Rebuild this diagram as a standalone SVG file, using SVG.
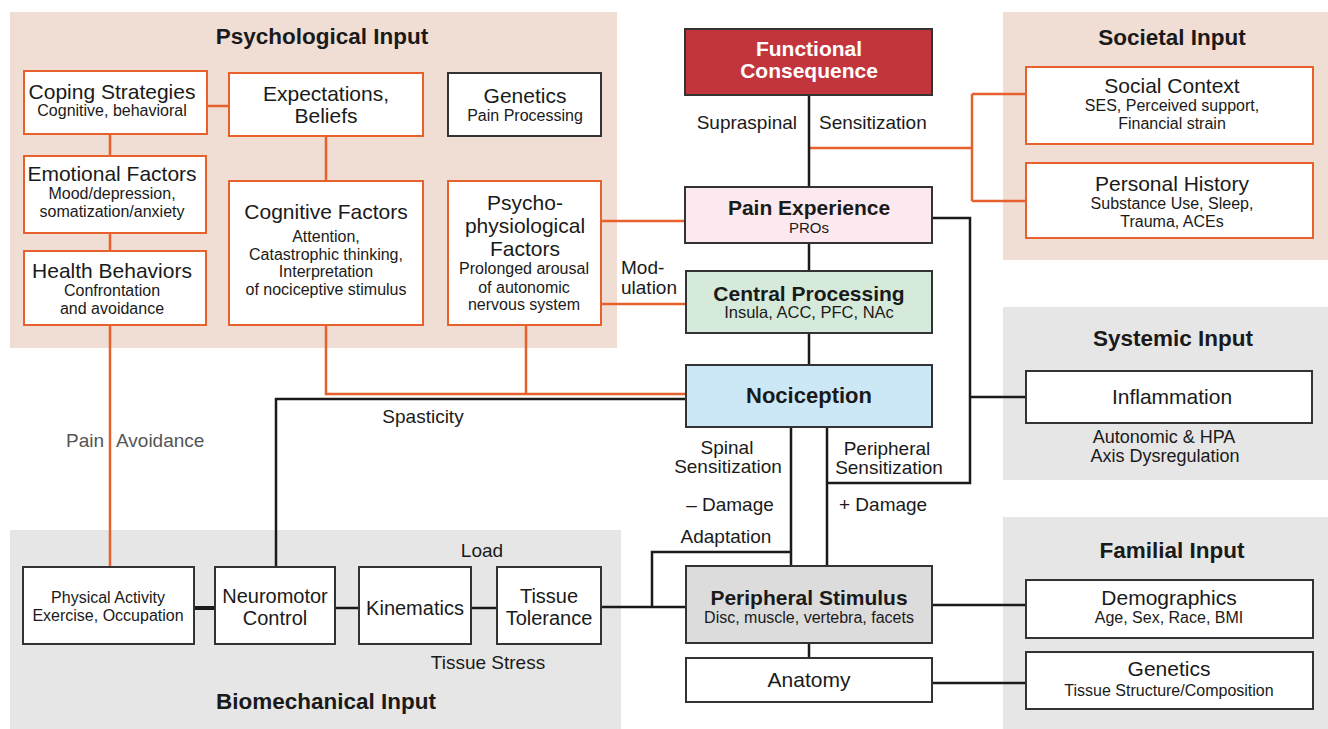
<svg xmlns="http://www.w3.org/2000/svg" width="1328" height="729" viewBox="0 0 1328 729">
<style>
text{font-family:"Liberation Sans",Arial,sans-serif;fill:#1a1a1a;text-anchor:middle}
.pt{font-size:22.5px;font-weight:bold}
.h{font-size:21px}
.hb{font-size:21px;font-weight:bold}
.s{font-size:16px}
.l{font-size:19px}
.lg{font-size:19px;fill:#555}
.ob{fill:#fff;stroke:#e8612c;stroke-width:2}
.kb{fill:#fff;stroke:#333;stroke-width:2}
.pp{fill:#f0ddd4}
.gp{fill:#e6e6e6}
.ol{fill:none;stroke:#e8612c;stroke-width:2.5}
.bl{fill:none;stroke:#1a1a1a;stroke-width:2.5}
</style>
<rect width="1328" height="729" fill="#fff"/>
<g id="panels">
<rect class="pp" x="10" y="12" width="607" height="336"/>
<rect class="pp" x="1003" y="12" width="325" height="248"/>
<rect class="gp" x="1003" y="307" width="325" height="173"/>
<rect class="gp" x="1003" y="517" width="325" height="212"/>
<rect class="gp" x="10" y="530" width="611" height="199"/>
<text class="pt" x="322" y="44">Psychological Input</text>
<text class="pt" x="1172" y="45">Societal Input</text>
<text class="pt" x="1173" y="346">Systemic Input</text>
<text class="pt" x="1172" y="558">Familial Input</text>
<text class="pt" x="326" y="709">Biomechanical Input</text>
</g>
<g id="connectors">
<path class="ol" d="M207 106H229M110 134V156M110 233V251M110 325V567M326 136V181M326 325V394H686M526 325V394M601 221H686M601 304H686M809 148H972M972 94V201M972 94H1026M972 201H1026"/>
<path class="bl" d="M809 95V187M809 243V271M809 333V365M932 218H970V483H827M970 397H1026M791 427V566M827 427V566M686 399H276V567M791 552H652V607M601 607H686M335 608H359M471 608H497M932 605H1026M809 643V658M932 683H1026"/>
<path class="bl" style="stroke-width:4" d="M194 608H215"/>
<text class="l" x="797" y="129" style="text-anchor:end">Supraspinal</text>
<text class="l" x="819" y="129" style="text-anchor:start">Sensitization</text>
<text class="l" x="621" y="274" style="text-anchor:start">Mod-</text>
<text class="l" x="621" y="294" style="text-anchor:start">ulation</text>
<text class="l" x="423" y="423">Spasticity</text>
<text class="lg" x="104" y="447" style="text-anchor:end">Pain</text>
<text class="lg" x="116" y="447" style="text-anchor:start">Avoidance</text>
<text class="l" x="727" y="454">Spinal</text>
<text class="l" x="728" y="473">Sensitization</text>
<text class="l" x="887" y="455">Peripheral</text>
<text class="l" x="889" y="474">Sensitization</text>
<text class="l" x="730" y="511">– Damage</text>
<text class="l" x="839" y="511" style="text-anchor:start">+ Damage</text>
<text class="l" x="726" y="543">Adaptation</text>
<text class="l" x="482" y="557">Load</text>
<text class="l" x="488" y="669">Tissue Stress</text>
<text class="l" x="1164" y="443" style="font-size:18px">Autonomic &amp; HPA</text>
<text class="l" x="1165" y="462" style="font-size:18px">Axis Dysregulation</text>
</g>
<g id="coping"><rect class="ob" x="24" y="71" width="183" height="63"/>
<text class="h" x="112" y="99">Coping Strategies</text><text class="s" x="112" y="116">Cognitive, behavioral</text></g>
<g id="expectations"><rect class="ob" x="229" y="73" width="194" height="63"/>
<text class="h" x="326" y="101">Expectations,</text><text class="h" x="326" y="123">Beliefs</text></g>
<g id="genetics-pain"><rect class="kb" x="448" y="73" width="153" height="63"/>
<text class="h" x="525" y="103">Genetics</text><text class="s" x="525" y="121">Pain Processing</text></g>
<g id="emotional"><rect class="ob" x="24" y="156" width="182" height="77"/>
<text class="h" x="112" y="181">Emotional Factors</text><text class="s" x="112" y="199">Mood/depression,</text><text class="s" x="112" y="217">somatization/anxiety</text></g>
<g id="health"><rect class="ob" x="24" y="251" width="182" height="74"/>
<text class="h" x="112" y="278">Health Behaviors</text><text class="s" x="112" y="296">Confrontation</text><text class="s" x="112" y="314">and avoidance</text></g>
<g id="cognitive"><rect class="ob" x="229" y="181" width="194" height="144"/>
<text class="h" x="326" y="219">Cognitive Factors</text><text class="s" x="326" y="242">Attention,</text><text class="s" x="326" y="260">Catastrophic thinking,</text><text class="s" x="326" y="277">Interpretation</text><text class="s" x="326" y="295">of nociceptive stimulus</text></g>
<g id="psychophys"><rect class="ob" x="448" y="181" width="153" height="144"/>
<text class="h" x="525" y="210">Psycho-</text><text class="h" x="525" y="233">physiological</text><text class="h" x="525" y="256">Factors</text><text class="s" x="524" y="274">Prolonged arousal</text><text class="s" x="524" y="293">of autonomic</text><text class="s" x="524" y="310">nervous system</text></g>
<g id="functional"><rect x="685" y="29" width="247" height="66" fill="#c3353c" stroke="#333" stroke-width="2"/>
<text class="hb" x="809" y="56" style="fill:#fff">Functional</text><text class="hb" x="809" y="78" style="fill:#fff">Consequence</text></g>
<g id="pain-exp"><rect x="685" y="187" width="247" height="56" fill="#fbe9ef" stroke="#333" stroke-width="2"/>
<text class="hb" x="809" y="215">Pain Experience</text><text class="s" x="809" y="233" style="font-size:15px">PROs</text></g>
<g id="central"><rect x="686" y="271" width="246" height="62" fill="#d6eadb" stroke="#333" stroke-width="2"/>
<text class="hb" x="809" y="301">Central Processing</text><text class="s" x="809" y="318" style="font-size:16.5px">Insula, ACC, PFC, NAc</text></g>
<g id="nociception"><rect x="686" y="365" width="246" height="62" fill="#cce8f6" stroke="#333" stroke-width="2"/>
<text class="hb" x="809" y="403" style="font-size:22px">Nociception</text></g>
<g id="social"><rect class="ob" x="1026" y="67" width="287" height="77"/>
<text class="h" x="1172" y="93">Social Context</text><text class="s" x="1172" y="111">SES, Perceived support,</text><text class="s" x="1172" y="129">Financial strain</text></g>
<g id="personal"><rect class="ob" x="1026" y="163" width="287" height="75"/>
<text class="h" x="1172" y="191">Personal History</text><text class="s" x="1172" y="209">Substance Use, Sleep,</text><text class="s" x="1172" y="227">Trauma, ACEs</text></g>
<g id="inflammation"><rect class="kb" x="1026" y="371" width="286" height="52"/>
<text class="h" x="1172" y="404">Inflammation</text></g>
<g id="physical"><rect class="kb" x="23" y="567" width="171" height="77"/>
<text class="s" x="108" y="603">Physical Activity</text><text class="s" x="108" y="621">Exercise, Occupation</text></g>
<g id="neuromotor"><rect class="kb" x="215" y="567" width="120" height="77"/>
<text class="h" x="275" y="603" style="font-size:20px">Neuromotor</text><text class="h" x="275" y="625" style="font-size:20px">Control</text></g>
<g id="kinematics"><rect class="kb" x="359" y="567" width="112" height="77"/>
<text class="h" x="415" y="615" style="font-size:20px">Kinematics</text></g>
<g id="tissue"><rect class="kb" x="497" y="567" width="104" height="77"/>
<text class="h" x="549" y="603" style="font-size:20px">Tissue</text><text class="h" x="549" y="625" style="font-size:20px">Tolerance</text></g>
<g id="peripheral"><rect x="686" y="566" width="246" height="77" fill="#dcdcdc" stroke="#333" stroke-width="2"/>
<text class="hb" x="809" y="605">Peripheral Stimulus</text><text class="s" x="809" y="623">Disc, muscle, vertebra, facets</text></g>
<g id="anatomy"><rect class="kb" x="686" y="658" width="246" height="44"/>
<text class="h" x="809" y="687">Anatomy</text></g>
<g id="demographics"><rect class="kb" x="1026" y="580" width="287" height="58"/>
<text class="h" x="1169" y="605">Demographics</text><text class="s" x="1169" y="623">Age, Sex, Race, BMI</text></g>
<g id="genetics-tissue"><rect class="kb" x="1026" y="652" width="287" height="57"/>
<text class="h" x="1169" y="676">Genetics</text><text class="s" x="1169" y="696">Tissue Structure/Composition</text></g>
</svg>
